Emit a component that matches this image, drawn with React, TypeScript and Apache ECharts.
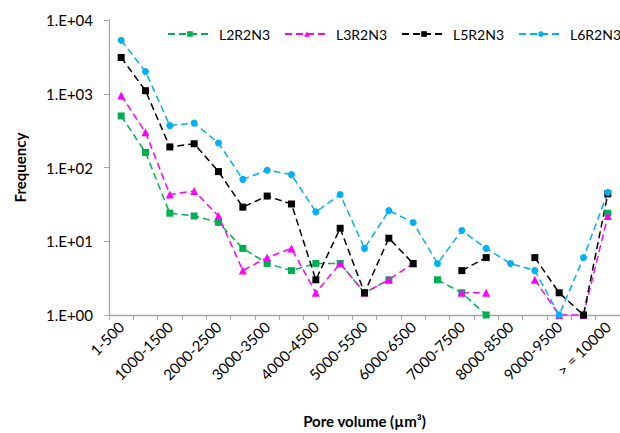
import React, { useEffect, useRef } from "react";
import * as echarts from "echarts";

// Pore volume bins (µm³)
const categories = [
  "1-500", "500-1000", "1000-1500", "1500-2000", "2000-2500", "2500-3000",
  "3000-3500", "3500-4000", "4000-4500", "4500-5000", "5000-5500", "5500-6000",
  "6000-6500", "6500-7000", "7000-7500", "7500-8000", "8000-8500", "8500-9000",
  "9000-9500", "9500-10000", "> = 10000",
];

const yTickLabels = ["1.E+00", "1.E+01", "1.E+02", "1.E+03", "1.E+04"];

// Pore counts per bin; null where a sample has no pores in that bin
const l2r2n3 = [500, 160, 24, 22, 18, 8, 5, 4, 5, 5, 2, 3, null, 3, 2, 1, null, null, null, null, 24];
const l3r2n3 = [950, 300, 43, 48, 22, 4, 6, 8, 2, 5, 2, 3, 5, null, 2, 2, null, 3, 1, 1, 22];
const l5r2n3 = [3100, 1100, 190, 210, 88, 29, 41, 32, 3, 15, 2, 11, 5, null, 4, 6, null, 6, 2, 1, 44];
const l6r2n3 = [5300, 2000, 370, 400, 215, 69, 92, 80, 25, 43, 8, 26, 18, 5, 14, 8, 5, 4, 1, 6, 46];

const FONT = "Lato";

export default function App() {
  const ref = useRef<HTMLDivElement>(null);

  useEffect(() => {
    document.body.style.margin = "0";
    if (!ref.current) return;
    const chart = echarts.init(ref.current, undefined, { renderer: "svg" });

    const mk = (name: string, data: (number | null)[], color: string, symbol: string, size: number) => ({
      name,
      type: "line",
      data,
      connectNulls: false,
      symbol,
      symbolSize: size,
      showAllSymbol: true,
      itemStyle: { color },
      lineStyle: { color, width: 1.5, type: [7, 4] },
    });

    chart.setOption({
      animation: false,
      backgroundColor: "#ffffff",
      textStyle: { fontFamily: FONT },
      grid: { left: 109, top: 20, width: 521, height: 300 },
      legend: {
        top: 22,
        left: 162,
        width: 456,
        itemWidth: 44,
        itemHeight: 7,
        itemGap: 14,
        textStyle: { fontFamily: FONT, fontSize: 14, color: "#000", padding: [0, 0, 0, 2] },
        data: ["L2R2N3", "L3R2N3", "L5R2N3", "L6R2N3"],
      },
      xAxis: {
        type: "category",
        data: categories,
        boundaryGap: true,
        name: "Pore volume (µm³)",
        nameLocation: "middle",
        nameGap: 98,
        nameTextStyle: { fontFamily: FONT, fontSize: 15, fontWeight: "bold", color: "#000" },
        axisLine: { lineStyle: { color: "#a6a6a6", width: 1.3 } },
        axisTick: { show: true, interval: 0, length: 5, lineStyle: { color: "#a6a6a6" } },
        axisLabel: {
          interval: 1,
          rotate: 45,
          fontFamily: FONT,
          fontSize: 15,
          color: "#000",
          margin: 9,
        },
        splitLine: { show: false },
      },
      yAxis: {
        type: "log",
        logBase: 10,
        min: 1,
        max: 10000,
        name: "Frequency",
        nameLocation: "middle",
        nameGap: 82,
        nameTextStyle: { fontFamily: FONT, fontSize: 15, fontWeight: "bold", color: "#000" },
        axisLine: { show: true, lineStyle: { color: "#a6a6a6", width: 1.3 } },
        axisTick: { show: true, length: 5, lineStyle: { color: "#a6a6a6" } },
        axisLabel: {
          fontFamily: FONT,
          fontSize: 15,
          color: "#000",
          margin: 16,
          formatter: (v: number) => yTickLabels[Math.round(Math.log10(v))] ?? "",
        },
        splitLine: { show: false },
      },
      series: [
        mk("L2R2N3", l2r2n3, "#00b050", "rect", 7),
        mk("L3R2N3", l3r2n3, "#ff00ff", "triangle", 8),
        mk("L5R2N3", l5r2n3, "#000000", "rect", 7),
        mk("L6R2N3", l6r2n3, "#00b0f0", "circle", 7),
      ],
    });

    return () => chart.dispose();
  }, []);

  return <div ref={ref} style={{ width: 620, height: 433 }} />;
}
